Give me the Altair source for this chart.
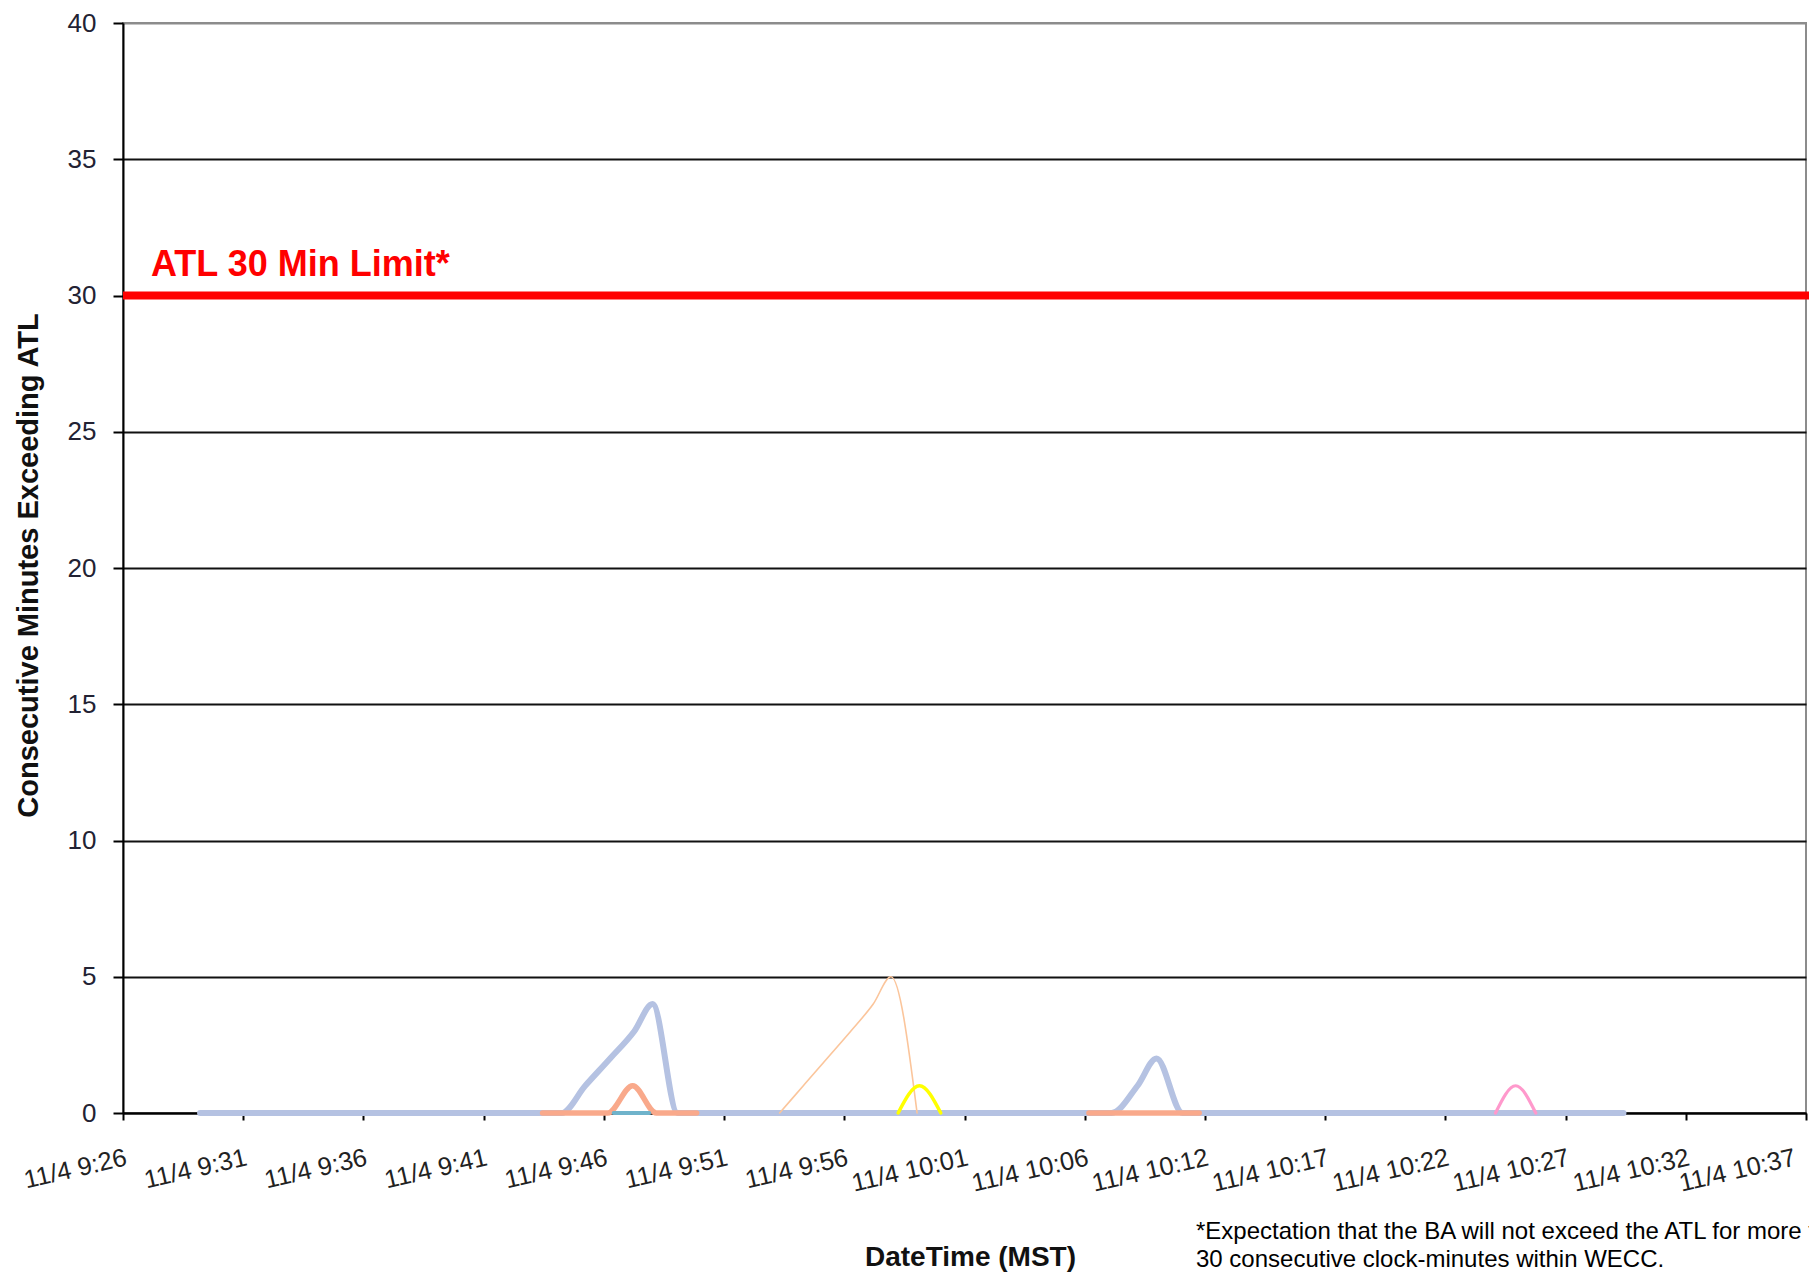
import json
import altair as alt
import pandas as pd

FONT = "Liberation Sans"

# x axis: minutes after 11/4 9:26, tick labels as shown
tick_labels = ["11/4 9:26", "11/4 9:31", "11/4 9:36", "11/4 9:41", "11/4 9:46",
               "11/4 9:51", "11/4 9:56", "11/4 10:01", "11/4 10:06", "11/4 10:12",
               "11/4 10:17", "11/4 10:22", "11/4 10:27", "11/4 10:32", "11/4 10:37"]
span_minutes = 71
tick_step = span_minutes / 14
tick_values = [i * tick_step for i in range(15)]

# series (time in minutes after 9:26, consecutive minutes exceeding ATL)
blue_t = [3.25, 18.5, 19.5, 20.55, 21.57, 22.34, 23.4, 41.7, 42.8, 43.6, 44.7, 63.3]
blue_v = [0, 0, 1, 2, 3, 4, 0, 0, 1, 2, 0, 0]
orange_a_t = [17.7, 20.45, 21.5, 22.5, 24.2]
orange_a_v = [0, 0, 1, 0, 0]
orange_b_t = [40.75, 45.4]
orange_b_v = [0, 0]
teal_t = [20.7, 22.2]
teal_v = [0, 0]
peach_t = [27.7, 28.7, 29.7, 30.7, 31.65, 32.4, 33.5]
peach_v = [0, 1, 2, 3, 4, 5, 0]
yellow_t = [32.7, 33.6, 34.5]
yellow_v = [0, 1, 0]
pink_t = [57.9, 58.75, 59.6]
pink_v = [0, 1, 0]

limit_value = [30]
limit_label = ["ATL 30 Min Limit*"]
footnote = ["*Expectation that the BA will not exceed the ATL for more than",
            "30 consecutive clock-minutes within WECC."]

xscale = alt.Scale(domain=[0, span_minutes], nice=False, zero=False)
yscale = alt.Scale(domain=[0, 40], nice=False)

label_expr = f"{json.dumps(tick_labels)}[round(datum.value / {tick_step})]"

xaxis = alt.Axis(
    values=tick_values, labelExpr=label_expr, labelAngle=347, labelAlign="right",
    labelBaseline="top", labelFontSize=25.5, labelPadding=25, labelColor="#222222",
    labelOffset={"condition": {"test": f"datum.value > {span_minutes - 1}", "value": -14}, "value": 0},
    labelFlush=False, labelOverlap=False, labelBound=False,
    tickSize=7, tickWidth=2, tickColor="#000000",
    domainColor="#000000", domainWidth=2, grid=False,
    title="DateTime (MST)", titleX=847, titleY=152, titleAlign="center",
    titleBaseline="alphabetic", titleFontSize=28, titleFontWeight="bold",
    titleColor="#111111",
)
yaxis = alt.Axis(
    values=list(range(0, 41, 5)), labelFontSize=26, labelPadding=17,
    labelColor="#222233", labelFlush=False,
    tickSize=10, tickWidth=2, tickColor="#000000",
    domainColor="#000000", domainWidth=2,
    grid=True, gridWidth=2,
    gridColor={"condition": {"test": "datum.value >= 40", "value": "#8c8c8c"}, "value": "#111111"},
    title="Consecutive Minutes Exceeding ATL", titleAngle=270, titleX=-86, titleY=542,
    titleAlign="center", titleBaseline="alphabetic", titleFontSize=29,
    titleFontWeight="bold", titleColor="#111111",
)


def series(t, v, color, width):
    df = pd.DataFrame({"t": t, "v": v})
    return alt.Chart(df).mark_line(
        color=color, strokeWidth=width, interpolate="monotone",
        strokeCap="round", strokeJoin="round",
    ).encode(
        x=alt.X("t:Q", scale=xscale, axis=xaxis),
        y=alt.Y("v:Q", scale=yscale, axis=yaxis),
    )


lines = [
    series(blue_t, blue_v, "#b5c2e2", 6),
    series(orange_a_t, orange_a_v, "#f9a98b", 5.5),
    series(orange_b_t, orange_b_v, "#f9a98b", 5.5),
    series(teal_t, teal_v, "#6fb3cb", 4),
    series(peach_t, peach_v, "#fbc59b", 1.6),
    series(yellow_t, yellow_v, "#ffff00", 3.5),
    series(pink_t, pink_v, "#ff99cc", 3.2),
]

limit_df = pd.DataFrame({"v": limit_value, "label": limit_label})
limit_rule = alt.Chart(limit_df).mark_rule(color="#ff0000", strokeWidth=8).encode(
    y=alt.Y("v:Q", scale=yscale, axis=yaxis),
    x=alt.value(0),
    x2=alt.value(1700),
)
limit_text = alt.Chart(limit_df).mark_text(
    align="left", baseline="alphabetic", font=FONT, fontSize=36,
    fontWeight="bold", color="#ff0000", dy=-20,
).encode(
    y=alt.Y("v:Q", scale=yscale, axis=yaxis),
    x=alt.value(28),
    text="label:N",
)
note = alt.Chart(pd.DataFrame({"a": [0]})).mark_text(
    align="left", baseline="alphabetic", font=FONT, fontSize=24,
    lineHeight=28, color="#000000",
).encode(
    x=alt.value(1073),
    y=alt.value(1216),
    text=alt.value(footnote),
)

chart = alt.layer(*lines, limit_rule, limit_text, note).properties(
    width=1683,
    height=1090,
    autosize=alt.AutoSizeParams(type="none"),
    padding={"left": 115, "top": 15, "right": 3, "bottom": 159},
).configure(font=FONT).configure_view(stroke="#8c8c8c", strokeWidth=2)

chart.save("out.html", embed_options={"renderer": "svg", "actions": False})
